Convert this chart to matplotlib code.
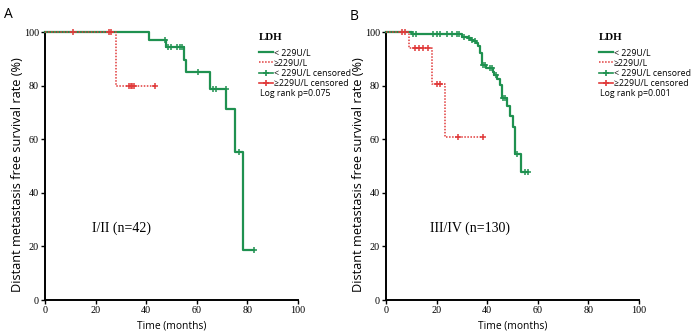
import numpy as np
import matplotlib
matplotlib.use("Agg")
import matplotlib.pyplot as plt
from matplotlib.lines import Line2D

# ---------------- data ----------------
# Panel A (I/II)
a_low_t = [0, 41.2, 47.9, 54.8, 55.8, 65.3, 71.6, 75.2, 78.1, 82.5]
a_low_s = [100, 97.2, 94.3, 89.6, 85.1, 78.9, 71.2, 55.3, 18.6, 18.6]
a_low_c = [47.5, 48.5, 49.8, 52.1, 53.2, 54.3, 60.4, 66.3, 67.4, 71.4, 76.8, 82.5]
a_high_t = [0, 28.2, 43.5]
a_high_s = [100, 80, 80]
a_high_c = [11.2, 25.3, 26.0, 33.1, 33.8, 34.5, 35.3, 43.5]

# Panel B (III/IV)
b_low_t = [0, 10.2, 30.0, 32.5, 33.5, 34.5, 35.5, 36.5, 37.2, 37.9, 39.6, 42.2,
           42.7, 43.8, 44.9, 45.8, 47.8, 49.0, 50.0, 51.0, 53.3, 56.3]
b_low_s = [100, 99.3, 98.3, 97.8, 97.2, 96.6, 96.0, 94.8, 92.3, 87.8, 86.5, 85.0,
           84.0, 82.3, 80.4, 75.2, 72.3, 68.6, 64.6, 54.6, 47.6, 47.6]
b_low_c = [10.8, 12.0, 18.5, 20.3, 21.3, 24.2, 26.1, 28.0, 29.0, 31.0, 32.8, 34.0,
           35.0, 38.5, 39.2, 41.2, 41.8, 43.5, 46.4, 47.1, 51.7, 55.0, 56.3]
b_high_t = [0, 9.2, 18.1, 23.3, 38.3]
b_high_s = [100, 94.1, 80.7, 60.7, 60.7]
b_high_c = [6.2, 7.5, 11.5, 13.2, 14.8, 16.7, 20.1, 21.4, 28.6, 38.3]

x_ticks = [0, 20, 40, 60, 80, 100]
y_ticks = [0, 20, 40, 60, 80, 100]
legend_title = "LDH"
legend_labels = ["< 229U/L", "\u2265229U/L", "< 229U/L censored", "\u2265229U/L censored"]
pvals = ["Log rank p=0.075", "Log rank p=0.001"]
group_labels = ["I/II (n=42)", "III/IV (n=130)"]
panel_letters = ["A", "B"]

GREEN = "#1f9150"
RED = "#e03a3a"
W, H = 696, 336

def surv_at(times, surv, t):
    idx = np.searchsorted(times, t, side="right") - 1
    return np.asarray(surv)[idx]

fig = plt.figure(figsize=(W / 100, H / 100), dpi=100)

SANS = ["Open Sans", "DejaVu Sans"]
SERIF = ["Liberation Serif", "DejaVu Serif"]

panels = [
    dict(left=45, right=298, low=(a_low_t, a_low_s, a_low_c), high=(a_high_t, a_high_s, a_high_c),
         group_xy=(30.3, 26.9), leg_x=259, letter_xy=(4, 14)),
    dict(left=386, right=639, low=(b_low_t, b_low_s, b_low_c), high=(b_high_t, b_high_s, b_high_c),
         group_xy=(33.1, 26.8), leg_x=599, letter_xy=(350, 17)),
]
top, bottom = 32, 300

for i, p in enumerate(panels):
    aw = p["right"] - p["left"]
    ah = bottom - top
    ax = fig.add_axes([p["left"] / W, (H - bottom) / H, aw / W, ah / H])
    lt, ls, lc = p["low"]
    ht, hs, hc = p["high"]
    ax.step(lt, ls, where="post", color=GREEN, lw=1.6, clip_on=False, zorder=3)
    ax.plot(lc, surv_at(lt, ls, lc), linestyle="none", marker="+", ms=4.5, mew=1.1,
            color=GREEN, clip_on=False, zorder=4)
    ax.step(ht, hs, where="post", color=RED, lw=1.1, linestyle=(0, (1, 1)), clip_on=False, zorder=5)
    ax.plot(hc, surv_at(ht, hs, hc), linestyle="none", marker="+", ms=4.5, mew=1.1,
            color=RED, clip_on=False, zorder=6)

    ax.set_xlim(0, 100)
    ax.set_ylim(0, 100)
    ax.set_xticks(x_ticks)
    ax.set_yticks(y_ticks)
    ax.spines["top"].set_visible(False)
    ax.spines["right"].set_visible(False)
    for s in ("left", "bottom"):
        ax.spines[s].set_linewidth(1.4)
    ax.tick_params(direction="out", length=3, width=1, pad=1.5)
    for lab in ax.get_xticklabels() + ax.get_yticklabels():
        lab.set_fontfamily(SERIF)
        lab.set_fontsize(7.3)
    ax.set_xlabel("Time (months)", fontsize=7.4, family=SANS)
    ax.xaxis.set_label_coords(0.5, -(326.5 - bottom) / ah)
    ax.xaxis.label.set_va("center")
    ax.set_ylabel("Distant metastasis free survival rate (%)", fontsize=9.2, family=SANS)
    ax.yaxis.set_label_coords(-27 / aw, (bottom - 175) / ah)
    ax.yaxis.label.set_va("center")
    ax.text(p["group_xy"][0], p["group_xy"][1], group_labels[i], ha="center", va="center",
            fontsize=10, family=SERIF)

    fig.text(p["letter_xy"][0] / W, 1 - p["letter_xy"][1] / H, panel_letters[i], fontsize=10,
             family=SANS, ha="left", va="center")

    fig.text(p["leg_x"] / W, 1 - 38 / H, legend_title, fontsize=7.8, family=SERIF,
             weight="bold", ha="left", va="center")
    handles = [
        Line2D([], [], color=GREEN, lw=1.6),
        Line2D([], [], color=RED, lw=1.1, linestyle=(0, (1, 1))),
        Line2D([], [], color=GREEN, lw=1.2, marker="+", ms=5, mew=1.2),
        Line2D([], [], color=RED, lw=1.2, marker="+", ms=5, mew=1.2),
    ]
    fig.legend(handles, legend_labels, loc="upper left",
               bbox_to_anchor=(p["leg_x"] / W, 1 - 48.5 / H), frameon=False,
               prop=dict(family=SANS, size=6.3), handlelength=1.6, handletextpad=0.1,
               labelspacing=0.12, borderaxespad=0, borderpad=0)
    fig.text((p["leg_x"] + 1) / W, 1 - 93 / H, pvals[i], fontsize=6.3, family=SANS,
             ha="left", va="center")

fig.savefig("out.png", dpi=100)
